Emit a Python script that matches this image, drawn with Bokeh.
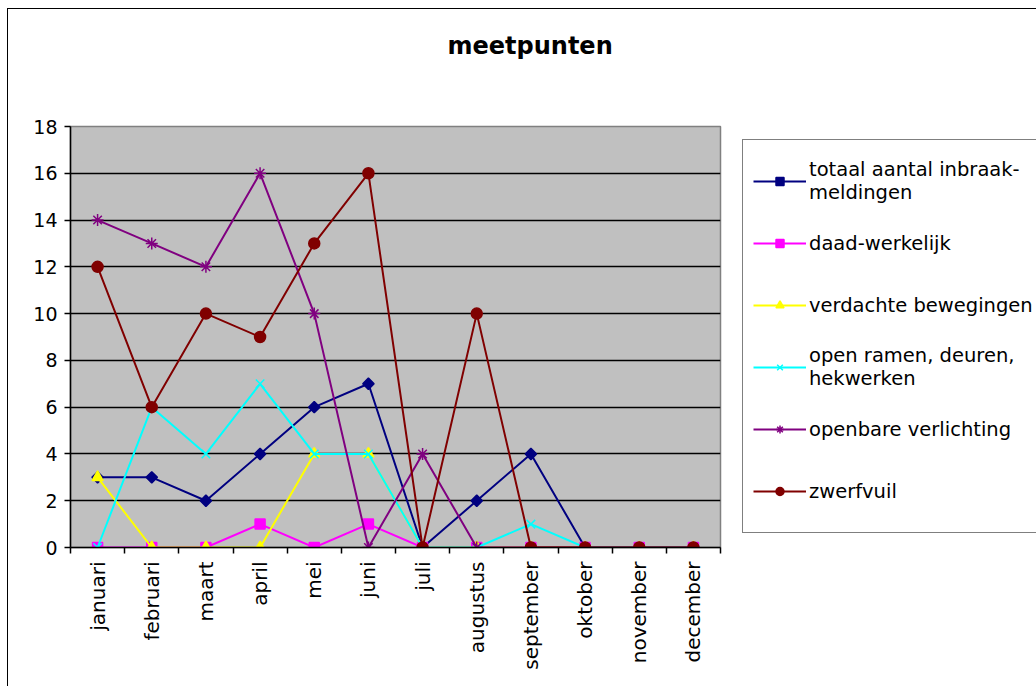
import math
from bokeh.plotting import figure
from bokeh.models import (FactorRange, Range1d, LinearAxis, CategoricalAxis, FixedTicker,
                          Legend, LegendItem, Title)
from bokeh.embed import file_html
from bokeh.resources import INLINE

months = ["januari", "februari", "maart", "april", "mei", "juni", "juli",
          "augustus", "september", "oktober", "november", "december"]
totaal = [3, 3, 2, 4, 6, 7, 0, 2, 4, 0, 0, 0]
daad = [0, 0, 0, 1, 0, 1, 0, 0, 0, 0, 0, 0]
verdachte = [3, 0, 0, 0, 4, 4, 0, 0, 0, 0, 0, 0]
open_ramen = [0, 6, 4, 7, 4, 4, 0, 0, 1, 0, 0, 0]
verlichting = [14, 13, 12, 16, 10, 0, 4, 0, 0, 0, 0, 0]
zwerfvuil = [12, 6, 10, 9, 13, 16, 0, 10, 0, 0, 0, 0]
y_ticks = [0, 2, 4, 6, 8, 10, 12, 14, 16, 18]

names = ["totaal aantal inbraak-\nmeldingen", "daad-werkelijk", "verdachte bewegingen",
         "open ramen, deuren,\nhekwerken", "openbare verlichting", "zwerfvuil"]
series = [totaal, daad, verdachte, open_ramen, verlichting, zwerfvuil]
colors = ["#000080", "#FF00FF", "#FFFF00", "#00FFFF", "#800080", "#800000"]
markers = ["square", "square", "triangle", "x", "asterisk", "circle"]
angles = [math.pi / 4, 0, 0, 0, 0, 0]
sizes = [8, 10, 11, 12, 12, 11]

FONT = "DejaVu Sans"

p = figure(frame_width=650, frame_height=421, x_range=FactorRange(*months), y_range=Range1d(0, 18),
           output_backend="svg", toolbar_location=None, x_axis_location=None,
           min_border_left=62, min_border_right=330, min_border_top=117, min_border_bottom=140,
           background_fill_color="#C0C0C0", border_fill_color="white",
           outline_line_color="#808080", outline_line_width=1.5)
p.styles = {"border": "1px solid black", "margin-left": "7px", "margin-top": "8px"}
p.title_location = None

# spacer between frame and the chart title, then the title itself
p.add_layout(Title(text=" ", text_font=FONT, text_font_size="24px", standoff=37), "above")
p.add_layout(Title(text="meetpunten", align="left", offset=377, standoff=0, text_font=FONT,
                   text_font_style="bold", text_font_size="24px", text_color="black"), "above")

# boundary ticks between the month categories (synthetic coordinates 0..12)
edge_ticks = list(range(len(months) + 1))
tick_axis = LinearAxis(ticker=FixedTicker(ticks=edge_ticks),
                       major_tick_out=6, major_tick_in=0, minor_tick_line_color=None,
                       major_label_text_font_size="1px", major_label_text_color=None,
                       major_label_standoff=0,
                       axis_line_color="black", axis_line_width=1.5, major_tick_line_width=1.5)
p.add_layout(tick_axis, "below")
cat_axis = CategoricalAxis(axis_line_color=None, major_tick_line_color=None,
                           major_label_orientation=math.pi / 2,
                           major_label_text_font=FONT, major_label_text_font_size="20px",
                           major_label_text_color="black", major_label_standoff=2)
p.add_layout(cat_axis, "below")

p.yaxis.ticker = FixedTicker(ticks=y_ticks)
p.yaxis.minor_tick_line_color = None
p.yaxis.major_tick_out = 6
p.yaxis.major_tick_in = 0
p.yaxis.major_label_standoff = 7
p.yaxis.axis_line_color = "black"
p.yaxis.axis_line_width = 1.5
p.yaxis.major_tick_line_width = 1.5
p.yaxis.major_label_text_font = FONT
p.yaxis.major_label_text_font_size = "19px"
p.yaxis.major_label_text_color = "black"

p.ygrid.ticker = FixedTicker(ticks=y_ticks)
p.ygrid.grid_line_color = "black"
p.ygrid.grid_line_width = 1.5
p.xgrid.grid_line_color = None

items = []
for name, vals, col, mk, ang, sz in zip(names, series, colors, markers, angles, sizes):
    lr = p.line(months, vals, line_color=col, line_width=2)
    sr = p.scatter(months, vals, marker=mk, angle=ang, size=sz, fill_color=col,
                   line_color=col, line_width=1.5)
    items.append(LegendItem(label=name, renderers=[lr, sr]))

legend = Legend(items=items, location=(22, 14), border_line_color="black", border_line_width=1.5,
                background_fill_color="white", background_fill_alpha=1.0,
                label_text_font=FONT, label_text_font_size="19.5px", label_text_color="black",
                glyph_width=53, label_standoff=3, padding=10, spacing=0, label_height=62,
                margin=0)
p.add_layout(legend, "right")

open("out.html", "w").write(file_html(p, INLINE))
